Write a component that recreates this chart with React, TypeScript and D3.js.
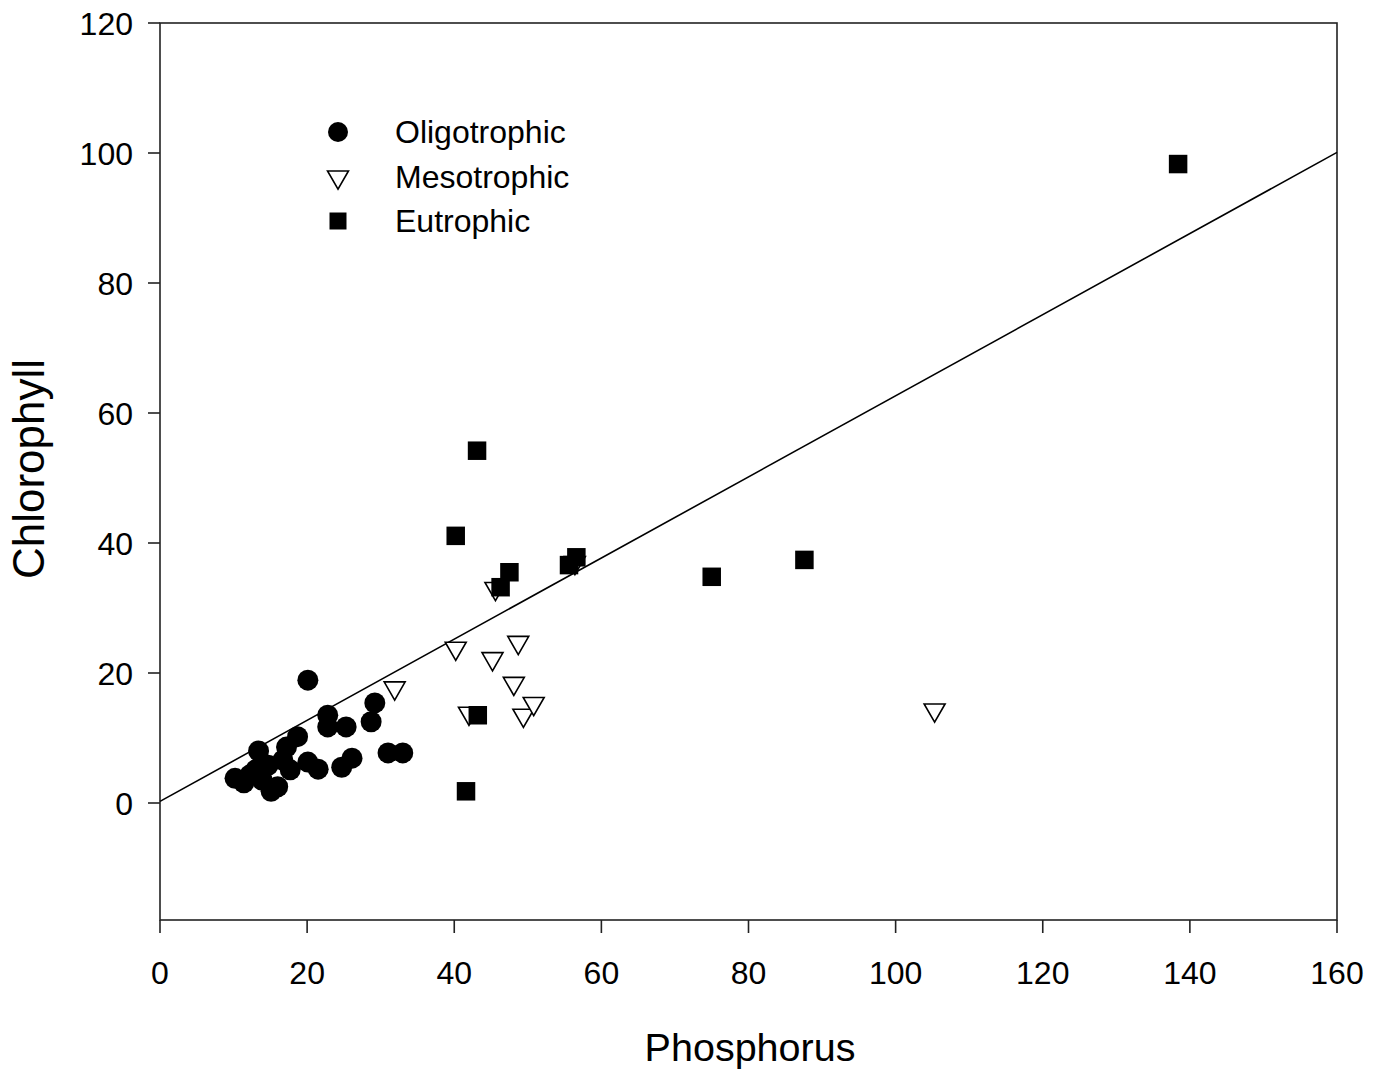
import React from 'react';
import * as d3 from 'd3';

// Oligotrophic lakes: [phosphorus, chlorophyll]
const oligotrophic: [number, number][] = [
  [10.2, 3.8], [11.4, 3.1], [12.2, 4.3], [13.0, 5.1], [13.4, 8.0], [13.9, 3.5],
  [14.7, 5.8], [15.1, 1.8], [16.0, 2.5], [16.7, 6.6], [17.2, 8.6], [17.7, 5.1],
  [18.7, 10.2], [20.1, 18.9], [20.1, 6.3], [21.5, 5.2], [22.8, 13.5], [22.8, 11.7],
  [25.3, 11.7], [24.7, 5.5], [26.1, 6.9], [28.7, 12.5], [29.2, 15.4], [31.0, 7.7],
  [33.0, 7.7],
];

const mesotrophic: [number, number][] = [
  [31.9, 17.7], [40.2, 23.8], [42.0, 13.8], [45.2, 22.2], [45.6, 33.0], [48.1, 18.4],
  [48.7, 24.7], [49.4, 13.5], [50.8, 15.3], [56.4, 37.0], [105.3, 14.3],
];

const eutrophic: [number, number][] = [
  [40.2, 41.1], [41.6, 1.8], [43.1, 54.2], [43.2, 13.5], [46.3, 33.2], [47.5, 35.5],
  [55.6, 36.6], [56.6, 37.8], [75.0, 34.8], [87.6, 37.4], [138.4, 98.3],
];

const xTicks = [0, 20, 40, 60, 80, 100, 120, 140, 160];
const yTicks = [0, 20, 40, 60, 80, 100, 120];
const legendLabels = ['Oligotrophic', 'Mesotrophic', 'Eutrophic'];

// fitted line: chlorophyll = intercept + slope * phosphorus
const fitIntercept = 0.25;
const fitSlope = 0.624;

const W = 1387;
const H = 1073;
const left = 160;
const right = 1337;
const top = 23;
const bottom = 920;

const font = '"Liberation Sans", Arial, sans-serif';

export default function App() {
  const x = d3.scaleLinear().domain([0, 160]).range([left, right]);
  const y = d3.scaleLinear().domain([-18, 120]).range([bottom, top]);

  const circle = d3.symbol().type(d3.symbolCircle).size(Math.PI * 10.5 * 10.5)()!;
  const tri = d3.symbol().type(d3.symbolTriangle).size(190)()!;
  const square = d3.symbol().type(d3.symbolSquare).size(18.5 * 18.5)()!;

  const line = d3.line<number>()
    .x((d) => x(d))
    .y((d) => y(fitIntercept + fitSlope * d));

  const legendY = [132, 177, 221];

  return (
    <div style={{ position: 'absolute', left: 0, top: 0 }}>
      <svg width={W} height={H} style={{ display: 'block', background: '#fff' }}>
        {/* frame */}
        <rect x={left} y={top} width={right - left} height={bottom - top}
          fill="none" stroke="#222" strokeWidth={1.6} />

        {/* x axis ticks */}
        {xTicks.map((t) => (
          <g key={'x' + t}>
            <line x1={x(t)} x2={x(t)} y1={bottom} y2={bottom + 13} stroke="#222" strokeWidth={1.6} />
            <text x={x(t)} y={bottom + 64} textAnchor="middle" fontSize={32} fontFamily={font}>{t}</text>
          </g>
        ))}

        {/* y axis ticks */}
        {yTicks.map((t) => (
          <g key={'y' + t}>
            <line x1={left - 12} x2={left} y1={y(t)} y2={y(t)} stroke="#222" strokeWidth={1.6} />
            <text x={left - 27} y={y(t) + 11.5} textAnchor="end" fontSize={32} fontFamily={font}>{t}</text>
          </g>
        ))}

        <text x={750} y={1061} textAnchor="middle" fontSize={39.5} fontFamily={font}>Phosphorus</text>
        <text transform={`translate(44, 469) rotate(-90)`} textAnchor="middle" fontSize={44} fontFamily={font}>Chlorophyll</text>

        {/* regression line */}
        <path d={line([0, 160]) || ''} fill="none" stroke="#000" strokeWidth={1.6} />

        {oligotrophic.map((d, i) => (
          <path key={'o' + i} d={circle} transform={`translate(${x(d[0])},${y(d[1])})`} fill="#000" />
        ))}
        {mesotrophic.map((d, i) => (
          <path key={'m' + i} d={tri} transform={`translate(${x(d[0])},${y(d[1])}) rotate(180)`}
            fill="#fff" stroke="#000" strokeWidth={1.6} />
        ))}
        {eutrophic.map((d, i) => (
          <path key={'e' + i} d={square} transform={`translate(${x(d[0])},${y(d[1])})`} fill="#000" />
        ))}

        {/* legend */}
        <path d={d3.symbol().type(d3.symbolCircle).size(Math.PI * 10 * 10)()!} transform={`translate(338,${legendY[0]})`} fill="#000" />
        <path d={tri} transform={`translate(338,${legendY[1]}) rotate(180)`} fill="#fff" stroke="#000" strokeWidth={1.6} />
        <path d={d3.symbol().type(d3.symbolSquare).size(17 * 17)()!} transform={`translate(338,${legendY[2]})`} fill="#000" />
        {legendLabels.map((l, i) => (
          <text key={l} x={395} y={legendY[i] + 11} fontSize={32} fontFamily={font}>{l}</text>
        ))}
      </svg>
    </div>
  );
}
